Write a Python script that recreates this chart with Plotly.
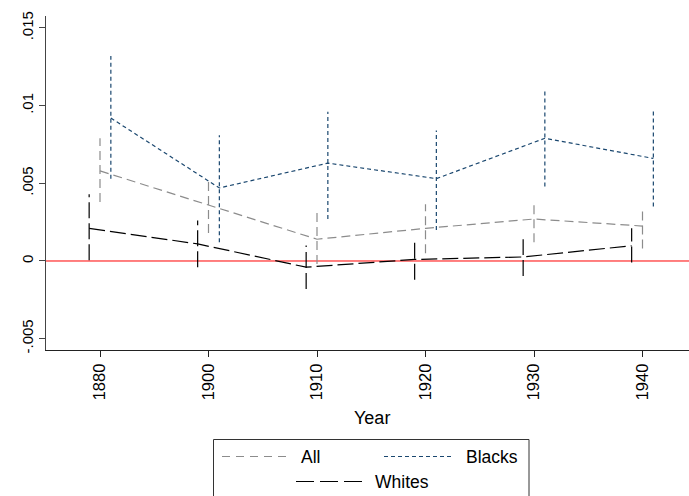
import plotly.graph_objects as go

# ---- data ----
year_labels = ["1880", "1900", "1910", "1920", "1930", "1940"]
positions = [1, 2, 3, 4, 5, 6]

all_est = [0.0058, 0.0036, 0.0014, 0.0021, 0.0027, 0.00225]
all_lo = [0.0038, 0.0018, -0.0002, 0.0005, 0.0012, 0.0008]
all_hi = [0.0079, 0.0053, 0.0031, 0.00365, 0.0039, 0.0035]

blacks_est = [0.0092, 0.0047, 0.0063, 0.0053, 0.0079, 0.0066]
blacks_lo = [0.0053, 0.0012, 0.0027, 0.0020, 0.0048, 0.0035]
blacks_hi = [0.0132, 0.0081, 0.0096, 0.0084, 0.0110, 0.0098]

whites_est = [0.0021, 0.0011, -0.0004, 0.0001, 0.00026, 0.00098]
whites_lo = [0.00005, -0.0004, -0.0018, -0.0012, -0.00096, -0.0001]
whites_hi = [0.0043, 0.0026, 0.0010, 0.00135, 0.0014, 0.0021]

y_tickvals = [-0.005, 0, 0.005, 0.01, 0.015]
y_ticktext = ["-.005", "0", ".005", ".01", ".015"]

# ---- styles ----
FONT = "Liberation Sans, Arial, sans-serif"
series = [
    ("All", all_est, all_lo, all_hi, 0.0, "#8c8c8c", "9px,5px"),
    ("Blacks", blacks_est, blacks_lo, blacks_hi, 0.1, "#1a476f", "4px,3px"),
    ("Whites", whites_est, whites_lo, whites_hi, -0.1, "#000000", "16px,5px"),
]

fig = go.Figure()

for name, est, lo, hi, off, color, dash in series:
    xs = [p + off for p in positions]
    ex, ey = [], []
    for x, l, h in zip(xs, lo, hi):
        ex += [x, x, None]
        ey += [l, h, None]
    fig.add_trace(go.Scatter(x=ex, y=ey, mode="lines", showlegend=False,
                             line=dict(color=color, width=1.2, dash=dash),
                             hoverinfo="skip"))
    fig.add_trace(go.Scatter(x=xs, y=est, mode="lines", name=name, showlegend=False,
                             line=dict(color=color, width=1.2, dash=dash)))

fig.add_hline(y=0, line=dict(color="#ff0000", width=1), layer="below")

# ---- manual legend (two rows, boxed) ----
H = 496 - 16 - 146
W = 689 - 46
def px(xp):
    return (xp - 46) / W
def py(yp):
    return (350 - yp) / H

fig.add_shape(type="rect", xref="paper", yref="paper",
              x0=px(213.5), x1=px(529), y0=py(505), y1=py(439.5),
              line=dict(color="#333333", width=1), fillcolor="white", layer="above")

legend_items = [
    ("All", "#8c8c8c", "8px,6px", 222, 290, 300, 456.5),
    ("Blacks", "#1a476f", "4px,3px", 384, 451, 465, 456.5),
    ("Whites", "#000000", "18px,6px", 296, 364, 374, 481.5),
]
for name, color, dash, x0, x1, tx, yy in legend_items:
    fig.add_shape(type="line", xref="paper", yref="paper",
                  x0=px(x0), x1=px(x1), y0=py(yy), y1=py(yy),
                  line=dict(color=color, width=1.2, dash=dash), layer="above")
    fig.add_annotation(xref="paper", yref="paper", x=px(tx), y=py(yy),
                       text=name, showarrow=False, xanchor="left", yanchor="middle",
                       borderpad=0,
                       font=dict(family=FONT, size=17.5, color="#000000"))

# x-axis title
fig.add_annotation(xref="paper", yref="paper", x=px(372), y=py(417.5),
                   text="Year", showarrow=False, xanchor="center", yanchor="middle",
                   font=dict(family=FONT, size=18, color="#000000"))

fig.update_layout(
    width=689, height=496,
    margin=dict(l=46, r=0, t=16, b=146, autoexpand=False),
    paper_bgcolor="white", plot_bgcolor="white",
    showlegend=False,
    font=dict(family=FONT, color="#000000"),
    xaxis=dict(range=[0.5023, 6.4286], tickmode="array", tickvals=positions,
               ticktext=year_labels, tickangle=-90, showgrid=False, zeroline=False,
               showline=True, linecolor="#222222", linewidth=1, automargin=False,
               ticks="outside", ticklen=6, tickcolor="#222222",
               tickfont=dict(family=FONT, size=16.5, color="#000000")),
    yaxis=dict(range=[-0.00573, 0.01577], tickmode="array", tickvals=y_tickvals,
               ticktext=y_ticktext, tickangle=-90, showgrid=False, zeroline=False,
               showline=True, linecolor="#444444", linewidth=1, automargin=False,
               ticks="outside", ticklen=6, tickcolor="#444444",
               tickfont=dict(family=FONT, size=15, color="#000000")),
)

fig.write_html(
    "out.html",
    config={"displayModeBar": False},
    post_script="document.body.style.margin='0';document.body.style.overflow='hidden';",
)
